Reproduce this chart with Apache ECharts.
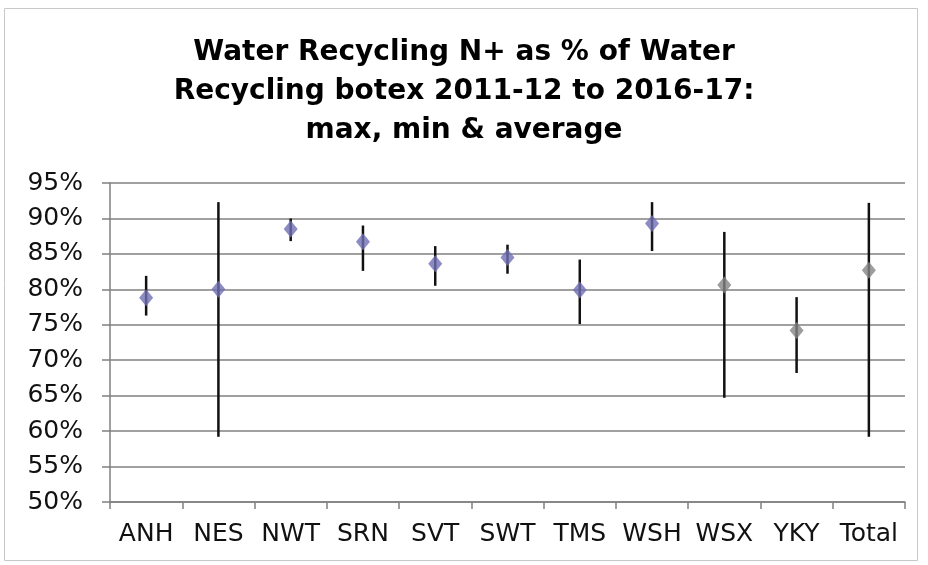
<!DOCTYPE html>
<html>
<head>
<meta charset="utf-8">
<script src="https://cdn.jsdelivr.net/npm/echarts@6/dist/echarts.min.js"></script>
<style>
  html, body { margin: 0; padding: 0; background: #fff; }
  #chart { width: 928px; height: 565px; }
</style>
</head>
<body>
<div id="chart"></div>
<script>
// companies
var categories = ['ANH', 'NES', 'NWT', 'SRN', 'SVT', 'SWT', 'TMS', 'WSH', 'WSX', 'YKY', 'Total'];
// max, min & average (% of botex)
var maxValues = [81.9, 92.3, 90.0, 89.0, 86.1, 86.3, 84.2, 92.3, 88.1, 78.9, 92.2];
var minValues = [76.3, 59.2, 86.8, 82.6, 80.5, 82.2, 75.1, 85.4, 64.7, 68.2, 59.2];
var avgValues = [78.8, 80.0, 88.5, 86.7, 83.6, 84.5, 79.9, 89.3, 80.6, 74.2, 82.7];
var yTicks = [50, 55, 60, 65, 70, 75, 80, 85, 90, 95];

var blueMarker = '#6f6fb4';
var greyMarker = '#858585';

var myChart = echarts.init(document.getElementById('chart'));

var rangeData = [];
for (var i = 0; i < categories.length; i++) {
	rangeData.push([i, minValues[i], maxValues[i]]);
}
var avgData = [];
for (var i = 0; i < categories.length; i++) {
	avgData.push({
		value: [i, avgValues[i]],
		itemStyle: { color: i >= 8 ? greyMarker : blueMarker }
	});
}

var option = {
	animation: false,
	textStyle: { fontFamily: 'DejaVu Sans' },
	title: {
		text: 'Water Recycling N+ as % of Water\nRecycling botex 2011-12 to 2016-17:\nmax, min & average',
		left: 'center',
		top: 28,
		textStyle: {
			fontFamily: 'DejaVu Sans',
			fontWeight: 'bold',
			fontSize: 28,
			lineHeight: 39,
			color: '#000'
		}
	},
	graphic: [{
		type: 'rect',
		shape: { x: 4.5, y: 8.5, width: 913, height: 552 },
		style: { fill: 'none', stroke: '#c8c8c8', lineWidth: 1 },
		silent: true
	}],
	grid: { left: 110, right: 23, top: 183, bottom: 63 },
	xAxis: {
		type: 'category',
		data: categories,
		boundaryGap: true,
		axisLine: { lineStyle: { color: '#808080', width: 1.5 } },
		axisTick: { show: true, interval: 0, length: 7, lineStyle: { color: '#808080', width: 1.5 } },
		axisLabel: { fontSize: 25, color: '#111', margin: 20, interval: 0, hideOverlap: false }
	},
	yAxis: {
		type: 'value',
		min: 50,
		max: 95,
		interval: 5,
		axisLine: { show: true, lineStyle: { color: '#808080', width: 1.5 } },
		axisTick: { show: true, length: 8, lineStyle: { color: '#808080', width: 1.5 } },
		axisLabel: { fontSize: 25, color: '#111', margin: 27, formatter: '{value}%' },
		splitLine: { lineStyle: { color: '#808080', width: 1.5 } }
	},
	series: [{
		type: 'custom',
		name: 'range',
		renderItem: function(params, api) {
			var top = api.coord([api.value(0), api.value(2)]);
			var bottom = api.coord([api.value(0), api.value(1)]);
			return {
				type: 'line',
				shape: { x1: top[0], y1: top[1], x2: bottom[0], y2: bottom[1] },
				style: { stroke: '#111', lineWidth: 2.5 }
			};
		},
		encode: { x: 0, y: [1, 2] },
		data: rangeData,
		z: 2
	}, {
		type: 'scatter',
		name: 'average',
		symbol: 'diamond',
		symbolSize: [14, 17],
		data: avgData,
		z: 3
	}]
};
myChart.setOption(option);
</script>
</body>
</html>
